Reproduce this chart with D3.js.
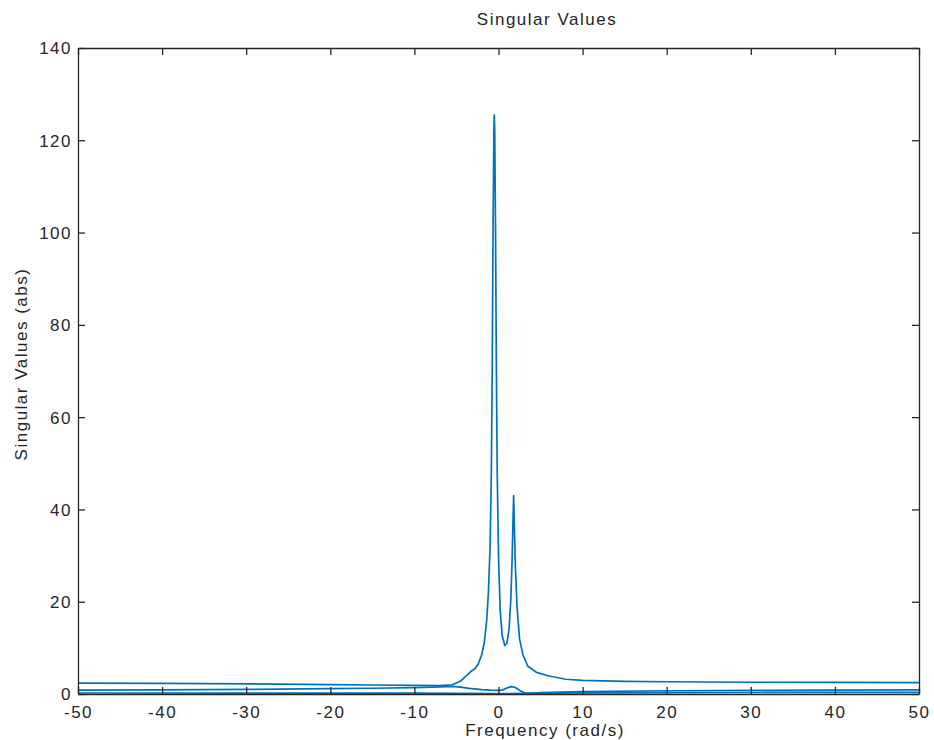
<!DOCTYPE html>
<html><head><meta charset="utf-8">
<script src="https://cdn.jsdelivr.net/npm/d3@7"></script>
<style>body{margin:0;background:#fff;} svg{display:block;} text{font-family:"Liberation Sans",Arial,sans-serif;fill:#262626;}</style>
</head><body><svg id="c" width="934" height="740"></svg>
<script>
const xTicks = [-50,-40,-30,-20,-10,0,10,20,30,40,50];
const yTicks = [0,20,40,60,80,100,120,140];
// sigma 1 (largest singular value)
const freq1 = [-50,-40,-30,-20,-15,-10,-7,-5.5,-4.5,-3.8,-3.2,-2.8,-2.4,-2.0,-1.7,-1.4,-1.2,-1.0,-0.85,-0.75,-0.65,-0.55,-0.5,-0.45,-0.35,-0.25,-0.15,0.0,0.2,0.45,0.75,1.0,1.25,1.45,1.6,1.72,1.8,1.88,2.0,2.2,2.5,2.9,3.5,4.5,6,8,10,15,20,30,40,50];
const sv1 = [2.35,2.3,2.2,2.05,1.95,1.85,1.8,2.0,2.8,4.0,5.0,5.5,6.5,8.5,11,16,22,32,48,70,100,122,125.5,122,100,70,48,30,18,12.5,10.5,11,14,20,28,37,43,37,28,19,12,8.5,6,4.7,3.9,3.2,2.95,2.75,2.65,2.55,2.5,2.45];
// sigma 2
const freq2 = [-50,-40,-30,-20,-15,-10,-7,-5.5,-4.5,-3.5,-2,-1,0,0.5,1.0,1.5,2.0,2.5,3.0,3.5,5,10,20,30,40,50];
const sv2 = [0.85,0.9,1.0,1.15,1.25,1.4,1.55,1.65,1.5,1.2,0.95,0.85,0.8,0.9,1.3,1.6,1.4,0.8,0.3,0.15,0.3,0.5,0.7,0.8,0.85,0.88];
// sigma 3
const freq3 = [-50,-30,-20,-10,-5,0,3,10,20,30,50];
const sv3 = [0.22,0.2,0.2,0.18,0.15,0.1,0.12,0.25,0.3,0.33,0.35];

const svg = d3.select("#c");
const L=78, R=919, T=48, B=694;
const x = d3.scaleLinear().domain([-50,50]).range([L,R]);
const y = d3.scaleLinear().domain([0,140]).range([B,T]);
const axColor = "#262626";
const fs = 17, ls = "1.5px";

const line = d3.line().x(d=>x(d[0])).y(d=>y(d[1]));
const series = [[freq1,sv1],[freq2,sv2],[freq3,sv3]];
const g = svg.append("g");
series.forEach(([f,v])=>{
  g.append("path").datum(f.map((d,i)=>[d,v[i]]))
   .attr("d",line).attr("fill","none").attr("stroke","#0072BD")
   .attr("stroke-width",1.7).attr("stroke-linejoin","round");
});

// axes
const tl = 7;
const fmt = d => String(d);
const axB = svg.append("g").attr("transform",`translate(0,${B})`)
  .call(d3.axisBottom(x).tickValues(xTicks).tickSizeInner(-tl).tickSizeOuter(0).tickPadding(12).tickFormat(fmt));
const axT = svg.append("g").attr("transform",`translate(0,${T})`)
  .call(d3.axisTop(x).tickValues(xTicks).tickSizeInner(-tl).tickSizeOuter(0).tickFormat(""));
const axL = svg.append("g").attr("transform",`translate(${L},0)`)
  .call(d3.axisLeft(y).tickValues(yTicks).tickSizeInner(-tl).tickSizeOuter(0).tickPadding(6).tickFormat(fmt));
const axR = svg.append("g").attr("transform",`translate(${R},0)`)
  .call(d3.axisRight(y).tickValues(yTicks).tickSizeInner(-tl).tickSizeOuter(0).tickFormat(""));
[axB,axT,axL,axR].forEach(a=>{
  a.selectAll("path").attr("stroke",axColor).attr("stroke-width",1.3);
  a.selectAll("line").attr("stroke",axColor).attr("stroke-width",1.3);
  a.selectAll("text").attr("font-size",fs).attr("fill",axColor)
   .style("font-family","Liberation Sans, Arial, sans-serif").style("letter-spacing",ls);
});
axB.selectAll("text").attr("dy","0.71em");
axL.selectAll("text").attr("dy","0.35em");

svg.append("text").attr("x",547).attr("y",25).attr("text-anchor","middle")
  .attr("font-size",fs).style("letter-spacing",ls).text("Singular Values");
svg.append("text").attr("x",545).attr("y",736).attr("text-anchor","middle")
  .attr("font-size",fs).style("letter-spacing",ls).text("Frequency (rad/s)");
svg.append("text").attr("transform","translate(27,364) rotate(-90)").attr("text-anchor","middle")
  .attr("font-size",fs).style("letter-spacing",ls).text("Singular Values (abs)");
</script></body></html>
